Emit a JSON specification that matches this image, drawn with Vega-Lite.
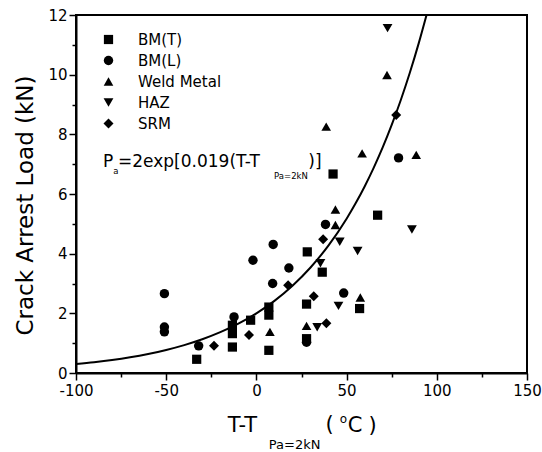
{
  "$schema": "https://vega.github.io/schema/vega-lite/v6.json",
  "width": 451,
  "height": 358,
  "autosize": {"type": "none"},
  "padding": {"left": 76, "top": 15, "right": 15, "bottom": 79},
  "background": "white",
  "config": {
    "font": "DejaVu Sans",
    "view": {"stroke": "black", "strokeWidth": 2},
    "axis": {"domainColor": "black", "domainWidth": 2, "tickColor": "black", "tickWidth": 1.5, "labelColor": "black", "labelFont": "DejaVu Sans", "labelFontSize": 15, "grid": false, "titleColor": "black", "labelOverlap": false, "labelFlush": false},
    "legend": {"labelFont": "DejaVu Sans", "labelFontSize": 15, "labelColor": "black", "labelOffset": 22, "rowPadding": 5, "symbolFillColor": "black", "symbolStrokeColor": "black", "symbolStrokeWidth": 0, "symbolOpacity": 1}
  },
  "datasets": {
    "pts": [
      {"s": "BM(T)", "x": -33.1, "y": 0.46},
      {"s": "BM(T)", "x": -13.3, "y": 1.60},
      {"s": "BM(T)", "x": -13.3, "y": 1.32},
      {"s": "BM(T)", "x": -13.3, "y": 0.87},
      {"s": "BM(T)", "x": -3.2, "y": 1.77},
      {"s": "BM(T)", "x": 6.9, "y": 2.21},
      {"s": "BM(T)", "x": 6.9, "y": 1.94},
      {"s": "BM(T)", "x": 6.9, "y": 0.76},
      {"s": "BM(T)", "x": 28.2, "y": 4.06},
      {"s": "BM(T)", "x": 67.2, "y": 5.29},
      {"s": "BM(T)", "x": 36.5, "y": 3.38},
      {"s": "BM(T)", "x": 27.8, "y": 2.31},
      {"s": "BM(T)", "x": 57.2, "y": 2.16},
      {"s": "BM(T)", "x": 27.8, "y": 1.15},
      {"s": "BM(T)", "x": 42.5, "y": 6.67},
      {"s": "BM(L)", "x": -51, "y": 2.66},
      {"s": "BM(L)", "x": -51, "y": 1.54},
      {"s": "BM(L)", "x": -51, "y": 1.38},
      {"s": "BM(L)", "x": -32, "y": 0.91},
      {"s": "BM(L)", "x": -12.4, "y": 1.88},
      {"s": "BM(L)", "x": -1.9, "y": 3.78},
      {"s": "BM(L)", "x": 9.3, "y": 4.31},
      {"s": "BM(L)", "x": 9.0, "y": 3.0},
      {"s": "BM(L)", "x": 18.0, "y": 3.52},
      {"s": "BM(L)", "x": 38.3, "y": 4.98},
      {"s": "BM(L)", "x": 48.4, "y": 2.68},
      {"s": "BM(L)", "x": 27.8, "y": 1.03},
      {"s": "BM(L)", "x": 78.8, "y": 7.21},
      {"s": "Weld Metal", "x": 7.5, "y": 1.38},
      {"s": "Weld Metal", "x": 43.8, "y": 5.48},
      {"s": "Weld Metal", "x": 43.8, "y": 4.96},
      {"s": "Weld Metal", "x": 57.6, "y": 2.53},
      {"s": "Weld Metal", "x": 27.8, "y": 1.58},
      {"s": "Weld Metal", "x": 72.4, "y": 9.99},
      {"s": "Weld Metal", "x": 38.7, "y": 8.26},
      {"s": "Weld Metal", "x": 58.6, "y": 7.36},
      {"s": "Weld Metal", "x": 88.6, "y": 7.31},
      {"s": "HAZ", "x": 46.2, "y": 4.40},
      {"s": "HAZ", "x": 56.1, "y": 4.09},
      {"s": "HAZ", "x": 86.2, "y": 4.81},
      {"s": "HAZ", "x": 35.5, "y": 3.68},
      {"s": "HAZ", "x": 45.5, "y": 2.25},
      {"s": "HAZ", "x": 33.7, "y": 1.53},
      {"s": "HAZ", "x": 72.7, "y": 11.56},
      {"s": "SRM", "x": -23.5, "y": 0.91},
      {"s": "SRM", "x": -4.1, "y": 1.27},
      {"s": "SRM", "x": 17.6, "y": 2.94},
      {"s": "SRM", "x": 37.0, "y": 4.48},
      {"s": "SRM", "x": 31.8, "y": 2.57},
      {"s": "SRM", "x": 38.8, "y": 1.67},
      {"s": "SRM", "x": 77.5, "y": 8.65}
    ],
    "curve": [
      {"x": -100, "y": 0.299},
      {"x": -90, "y": 0.362},
      {"x": -80, "y": 0.437},
      {"x": -70, "y": 0.529},
      {"x": -60, "y": 0.640},
      {"x": -50, "y": 0.773},
      {"x": -40, "y": 0.935},
      {"x": -30, "y": 1.131},
      {"x": -20, "y": 1.368},
      {"x": -10, "y": 1.654},
      {"x": 0, "y": 2.0},
      {"x": 10, "y": 2.418},
      {"x": 20, "y": 2.925},
      {"x": 30, "y": 3.537},
      {"x": 40, "y": 4.277},
      {"x": 50, "y": 5.171},
      {"x": 55, "y": 5.687},
      {"x": 60, "y": 6.254},
      {"x": 65, "y": 6.877},
      {"x": 70, "y": 7.562},
      {"x": 75, "y": 8.316},
      {"x": 80, "y": 9.144},
      {"x": 85, "y": 10.056},
      {"x": 90, "y": 11.058},
      {"x": 94.3, "y": 12.0}
    ],
    "bigtext": [
      {"x": -85.1, "y": 6.91, "t": "P"},
      {"x": -76.7, "y": 6.91, "t": "=2exp[0.019(T-T"},
      {"x": 28.8, "y": 6.91, "t": ")]"}
    ],
    "smalltext": [
      {"x": -79.3, "y": 6.67, "t": "a"},
      {"x": 9.8, "y": 6.50, "t": "Pa=2kN"}
    ],
    "xtitle": [
      {"x": -15.9, "y": -1.99, "t": "T-T"},
      {"x": 38.3, "y": -1.96, "t": "("},
      {"x": 50.7, "y": -1.99, "t": "C"},
      {"x": 62.1, "y": -1.99, "t": ")"}
    ],
    "xtitlesub": [
      {"x": 6.9, "y": -2.54, "t": "Pa=2kN"}
    ],
    "xtitlesup": [
      {"x": 46.2, "y": -1.68, "t": "o"}
    ]
  },
  "encoding": {
    "x": {
      "field": "x", "type": "quantitative",
      "scale": {"domain": [-100, 150], "nice": false, "zero": false},
      "axis": {
        "values": [-100, -75, -50, -25, 0, 25, 50, 75, 100, 125, 150],
        "tickSize": {"condition": {"test": "datum.value % 50 !== 0", "value": 4}, "value": 7},
        "labelExpr": "datum.value % 50 === 0 ? '' + datum.value : ''",
        "labelPadding": 3,
        "title": null
      }
    },
    "y": {
      "field": "y", "type": "quantitative",
      "scale": {"domain": [0, 12], "nice": false, "zero": false},
      "axis": {
        "values": [0, 1, 2, 3, 4, 5, 6, 7, 8, 9, 10, 11, 12],
        "tickSize": {"condition": {"test": "datum.value % 2 !== 0", "value": 4}, "value": 7},
        "labelExpr": "datum.value % 2 === 0 ? '' + datum.value : ''",
        "labelPadding": 2,
        "title": "Crack Arrest Load (kN)",
        "titleFont": "DejaVu Sans",
        "titleFontSize": 23,
        "titleFontWeight": "normal",
        "titleAngle": -90,
        "titleAlign": "center",
        "titleBaseline": "alphabetic",
        "titleX": -44,
        "titleY": 190
      }
    }
  },
  "layer": [
    {
      "data": {"name": "curve"},
      "mark": {"type": "line", "color": "black", "strokeWidth": 2, "interpolate": "monotone", "clip": true},
      "encoding": {}
    },
    {
      "data": {"name": "pts"},
      "mark": {"type": "point", "filled": true, "color": "black", "opacity": 1, "strokeWidth": 0},
      "encoding": {
        "shape": {
          "field": "s", "type": "nominal",
          "scale": {"domain": ["BM(T)", "BM(L)", "Weld Metal", "HAZ", "SRM"], "range": ["square", "circle", "triangle-up", "triangle-down", "diamond"]},
          "legend": {"orient": "none", "legendX": 25, "legendY": 17, "title": null}
        },
        "size": {
          "field": "s", "type": "nominal",
          "scale": {"domain": ["BM(T)", "BM(L)", "Weld Metal", "HAZ", "SRM"], "range": [85, 100, 130, 130, 150]},
          "legend": {"orient": "none", "legendX": 25, "legendY": 17, "title": null}
        }
      }
    },
    {
      "data": {"name": "bigtext"},
      "mark": {"type": "text", "align": "left", "baseline": "alphabetic", "font": "DejaVu Sans", "fontSize": 17, "color": "black"},
      "encoding": {"text": {"field": "t"}}
    },
    {
      "data": {"name": "smalltext"},
      "mark": {"type": "text", "align": "left", "baseline": "alphabetic", "font": "DejaVu Sans", "fontSize": 8.5, "color": "black"},
      "encoding": {"text": {"field": "t"}}
    },
    {
      "data": {"name": "xtitle"},
      "mark": {"type": "text", "align": "left", "baseline": "alphabetic", "font": "DejaVu Sans", "fontSize": 21, "color": "black"},
      "encoding": {"text": {"field": "t"}}
    },
    {
      "data": {"name": "xtitlesub"},
      "mark": {"type": "text", "align": "left", "baseline": "alphabetic", "font": "DejaVu Sans", "fontSize": 13, "color": "black"},
      "encoding": {"text": {"field": "t"}}
    },
    {
      "data": {"name": "xtitlesup"},
      "mark": {"type": "text", "align": "left", "baseline": "alphabetic", "font": "DejaVu Sans", "fontSize": 12, "color": "black"},
      "encoding": {"text": {"field": "t"}}
    }
  ]
}
